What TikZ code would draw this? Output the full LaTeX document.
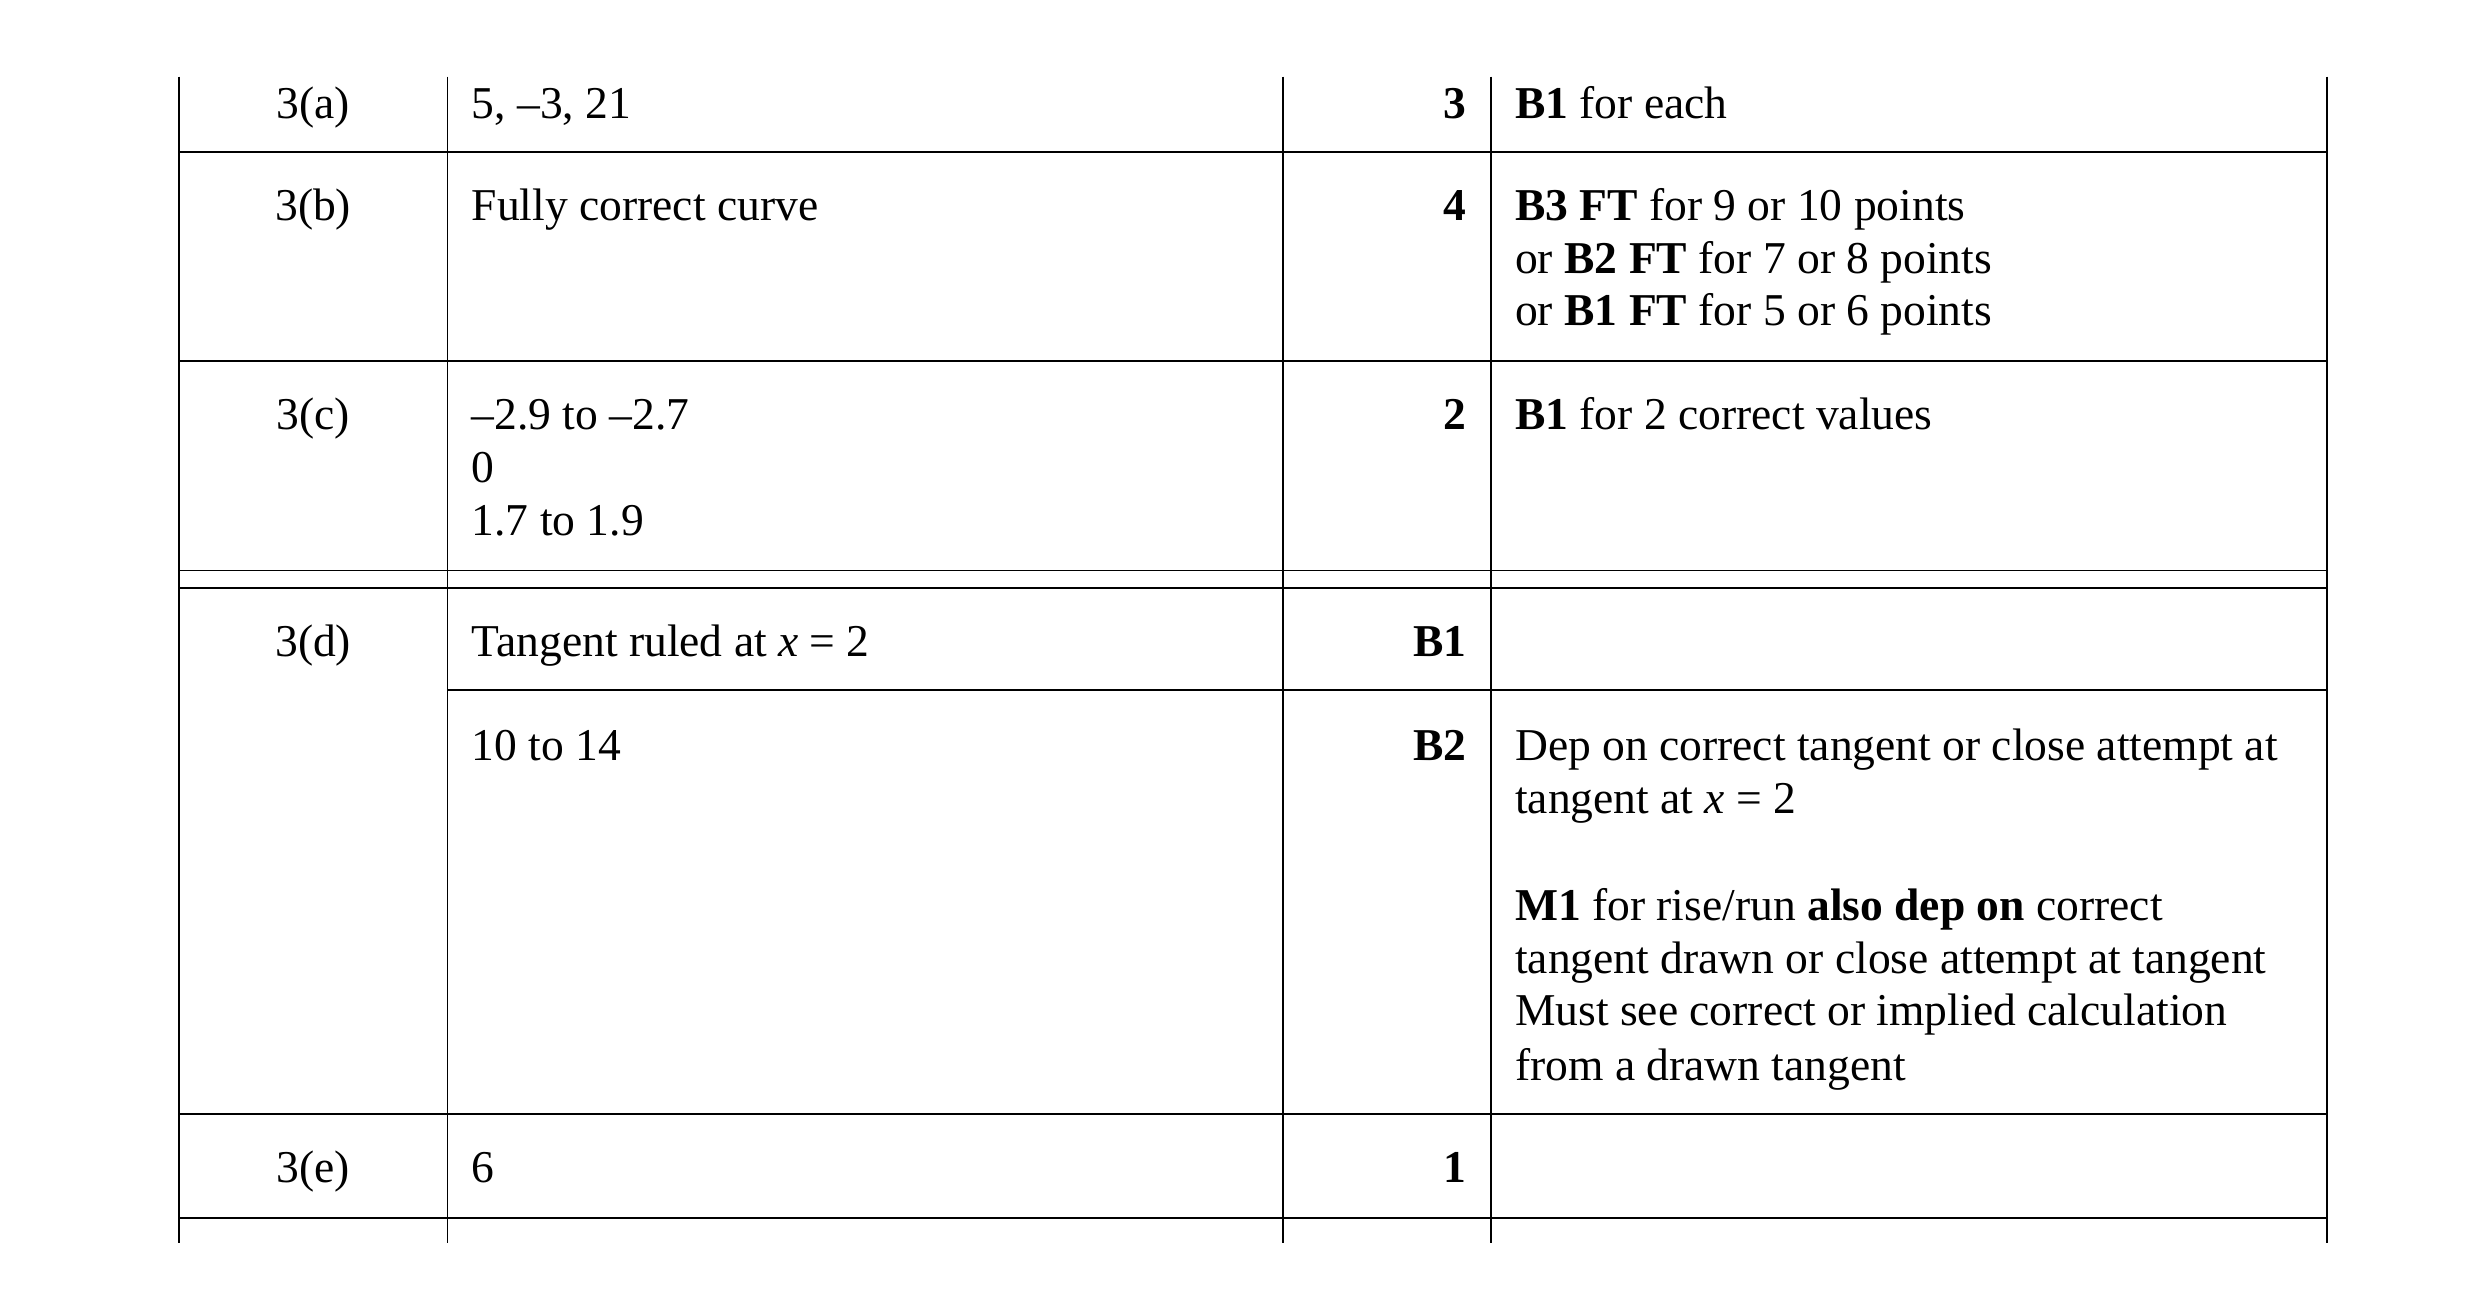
\documentclass[tikz,border=0pt]{standalone}
\usepackage{fontspec}
\setmainfont{Liberation Serif}
\begin{document}
\begin{tikzpicture}[x=1pt,y=-1pt,
    rule/.style={line width=1.1pt},
    cell/.style={anchor=base west, inner sep=0pt, font=\fontsize{28.5}{33}\selectfont},
    part/.style={anchor=base, inner sep=0pt, font=\fontsize{28.5}{33}\selectfont},
    score/.style={anchor=base east, inner sep=0pt, font=\fontsize{28.5}{33}\selectfont\bfseries}
]
    \useasboundingbox (0,0) rectangle (1552,817);
    % Grid
    \foreach \x in {112,280,803,933,1456}
        \draw[rule] (\x,48) -- (\x,778);
    \foreach \y in {95,226,357,368,697,762}
        \draw[rule] (112,\y) -- (1456,\y);
    \draw[rule] (280,432) -- (1456,432);
    % Part labels
    \node[part] (p1) at (196,74) {3(a)};
    \node[part] (p2) at (196,138) {3(b)};
    \node[part] (p3) at (196,269) {3(c)};
    \node[part] (p4) at (196,411) {3(d)};
    \node[part] (p5) at (196,740) {3(e)};
    % Answers
    \node[cell] (a1) at (295,74) {5, --3, 21};
    \node[cell] (a2) at (295,138) {Fully correct curve};
    \node[cell] (a3) at (295,269) {--2.9 to --2.7};
    \node[cell] (a3b) at (295,302) {0};
    \node[cell] (a3c) at (295,335) {1.7 to 1.9};
    \node[cell] (a4) at (295,411) {Tangent ruled at \textit{x} = 2};
    \node[cell] (a5) at (295,476) {10 to 14};
    \node[cell] (a6) at (295,740) {6};
    % Marks
    \node[score] (m1) at (918,74) {3};
    \node[score] (m2) at (918,138) {4};
    \node[score] (m3) at (918,269) {2};
    \node[score] (m4) at (918,411) {B1};
    \node[score] (m5) at (918,476) {B2};
    \node[score] (m6) at (918,740) {1};
    % Guidance
    \node[cell] (g1) at (948,74) {\textbf{B1} for each};
    \node[cell] (g2) at (948,138) {\textbf{B3 FT} for 9 or 10 points};
    \node[cell] (g2b) at (948,171) {or \textbf{B2 FT} for 7 or 8 points};
    \node[cell] (g2c) at (948,204) {or \textbf{B1 FT} for 5 or 6 points};
    \node[cell] (g3) at (948,269) {\textbf{B1} for 2 correct values};
    \node[cell] (g4) at (948,476) {Dep on correct tangent or close attempt at};
    \node[cell] (g4b) at (948,509) {tangent at \textit{x} = 2};
    \node[cell] (g4c) at (948,576) {\textbf{M1} for rise/run \textbf{also dep on} correct};
    \node[cell] (g4d) at (948,609) {tangent drawn or close attempt at tangent};
    \node[cell] (g4e) at (948,642) {Must see correct or implied calculation};
    \node[cell] (g4f) at (948,676) {from a drawn tangent};
\end{tikzpicture}
\end{document}
